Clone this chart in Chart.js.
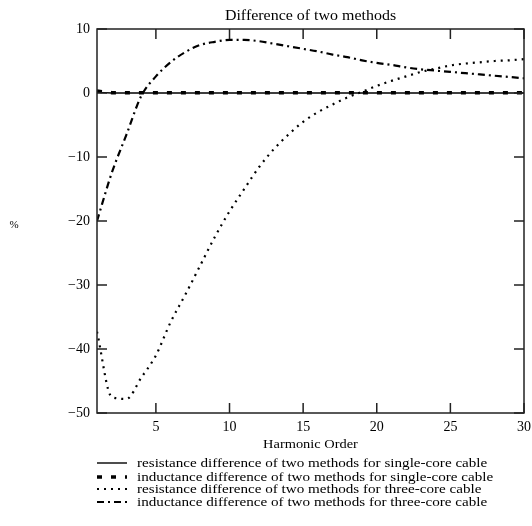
<!DOCTYPE html>
<html>
<head>
<meta charset="utf-8">
<script src="https://cdn.jsdelivr.net/npm/chart.js@4.4.1/dist/chart.umd.min.js"></script>
<style>
  html, body { margin: 0; padding: 0; background: #fff; }
  canvas { display: block; }
</style>
</head>
<body>
<canvas id="diffChart" width="532" height="526"></canvas>
<script>
// Harmonic orders (x values)
const harmonicOrder = [1, 2, 3, 4, 5, 6, 7, 8, 9, 10, 11, 12, 13, 14, 15,
                       16, 17, 18, 19, 20, 21, 22, 23, 24, 25, 26, 27, 28, 29, 30];

// Differences in %
const resSingle = [0.1, 0, 0, 0, 0, 0, 0, 0, 0, 0, 0, 0, 0, 0, 0,
                   0, 0, 0, 0, 0, 0, 0, 0, 0, 0, 0, 0, 0, 0, 0];
const indSingle = [0.3, 0.05, 0.05, 0.05, 0.05, 0.05, 0.05, 0.05, 0.05, 0.05, 0.05, 0.05, 0.05, 0.05, 0.05,
                   0.05, 0.05, 0.05, 0.05, 0.05, 0.05, 0.05, 0.05, 0.05, 0.05, 0.05, 0.05, 0.05, 0.05, 0.05];
const resThree = [-37.3, -47.5, -47.8, -44.5, -41, -35.8, -31.5, -27, -22.5, -18.5, -15, -11.6, -8.8, -6.5, -4.5,
                  -3, -1.8, -0.7, 0.2, 1.1, 1.9, 2.6, 3.3, 3.8, 4.3, 4.6, 4.8, 5, 5.1, 5.3];
const indThree = [-20, -12.5, -6.5, -0.5, 2.6, 4.8, 6.4, 7.5, 8.0, 8.3, 8.3, 8.1, 7.7, 7.3, 6.9,
                  6.5, 6.0, 5.6, 5.1, 4.7, 4.4, 4.0, 3.7, 3.5, 3.3, 3.1, 2.9, 2.7, 2.5, 2.3];

const xTicks = [5, 10, 15, 20, 25, 30];
const yTicks = [-50, -40, -30, -20, -10, 0, 10];

const seriesLabels = [
    'resistance difference of two methods for single-core cable',
    'inductance difference of two methods for single-core cable',
    'resistance difference of two methods for three-core cable',
    'inductance difference of two methods for three-core cable'
];

const serif = "'Liberation Serif', 'DejaVu Serif', serif";

function points(values) {
    return harmonicOrder.map((h, i) => ({ x: h, y: values[i] }));
}

// the source picture's lettering is a little wider than Times, so stretch it
function wideText(ctx, text, x, y, size, stretch, align) {
    ctx.save();
    ctx.font = size + 'px ' + serif;
    ctx.textAlign = align;
    ctx.textBaseline = 'middle';
    ctx.translate(x, y);
    ctx.scale(stretch, 1);
    ctx.fillText(text, 0, 0);
    ctx.restore();
}

// Frame, inward ticks, titles and legend
const decorPlugin = {
    id: 'decor',
    afterDraw(chart) {
        const { ctx, chartArea: a, scales } = chart;
        const x = scales.x, y = scales.y;
        ctx.save();
        ctx.strokeStyle = '#222';
        ctx.lineWidth = 1.5;
        ctx.setLineDash([]);
        ctx.strokeRect(a.left, a.top, a.right - a.left, a.bottom - a.top);

        ctx.beginPath();
        xTicks.forEach(v => {
            const px = x.getPixelForValue(v);
            ctx.moveTo(px, a.bottom); ctx.lineTo(px, a.bottom - 10);
            ctx.moveTo(px, a.top); ctx.lineTo(px, a.top + 10);
        });
        yTicks.forEach(v => {
            const py = y.getPixelForValue(v);
            ctx.moveTo(a.left, py); ctx.lineTo(a.left + 10, py);
            ctx.moveTo(a.right, py); ctx.lineTo(a.right - 10, py);
        });
        ctx.stroke();

        ctx.fillStyle = '#000';
        const cx = (a.left + a.right) / 2;
        wideText(ctx, 'Difference of two methods', cx, 16, 14, 1.14, 'center');
        wideText(ctx, 'Harmonic Order', cx, 445, 12, 1.2, 'center');
        wideText(ctx, '%', 14, 225, 10, 1.1, 'center');

        // legend
        const rows = [463, 477, 489, 502];
        chart.data.datasets.forEach((ds, i) => {
            const ry = rows[i];
            ctx.save();
            ctx.strokeStyle = '#000';
            ctx.lineWidth = ds.borderWidth;
            ctx.setLineDash(ds.borderDash || []);
            ctx.beginPath();
            ctx.moveTo(97, ry);
            ctx.lineTo(127, ry);
            ctx.stroke();
            ctx.restore();
            wideText(ctx, ds.label, 137, ry, 13.5, 1.12, 'left');
        });
        ctx.restore();
    }
};

new Chart(document.getElementById('diffChart'), {
    type: 'line',
    data: {
        datasets: [
            {
                label: seriesLabels[0],
                data: points(resSingle),
                borderColor: '#000',
                borderWidth: 1.4,
                borderDash: [],
                pointRadius: 0
            },
            {
                label: seriesLabels[1],
                data: points(indSingle),
                borderColor: '#000',
                borderWidth: 3.5,
                borderDash: [5, 9],
                pointRadius: 0
            },
            {
                label: seriesLabels[2],
                data: points(resThree),
                borderColor: '#000',
                borderWidth: 2.2,
                borderDash: [2, 5],
                cubicInterpolationMode: 'monotone',
                pointRadius: 0
            },
            {
                label: seriesLabels[3],
                data: points(indThree),
                borderColor: '#000',
                borderWidth: 2.2,
                borderDash: [7, 4, 2, 4],
                cubicInterpolationMode: 'monotone',
                pointRadius: 0
            }
        ]
    },
    options: {
        responsive: false,
        animation: false,
        layout: { padding: { left: 0, right: 8, top: 29, bottom: 93 } },
        plugins: {
            legend: { display: false },
            title: { display: false },
            tooltip: { enabled: false }
        },
        scales: {
            x: {
                type: 'linear',
                min: 1,
                max: 30,
                grid: { display: false, drawTicks: false },
                border: { display: false },
                afterBuildTicks: scale => { scale.ticks = xTicks.map(v => ({ value: v })); },
                afterFit: scale => {
                    scale.height = 20;
                    scale.paddingLeft = 0;
                    scale.paddingRight = 0;
                },
                ticks: {
                    padding: 6,
                    color: '#000',
                    font: { family: serif, size: 14 },
                    maxRotation: 0
                }
            },
            y: {
                min: -50,
                max: 10,
                grid: { display: false, drawTicks: false },
                border: { display: false },
                afterBuildTicks: scale => { scale.ticks = yTicks.map(v => ({ value: v })); },
                afterFit: scale => {
                    scale.width = 97;
                    scale.paddingTop = 0;
                    scale.paddingBottom = 0;
                },
                ticks: {
                    padding: 7,
                    color: '#000',
                    font: { family: serif, size: 14 },
                    callback: v => String(v).replace('-', '\u2212')
                }
            }
        }
    },
    plugins: [decorPlugin]
});
</script>
</body>
</html>
